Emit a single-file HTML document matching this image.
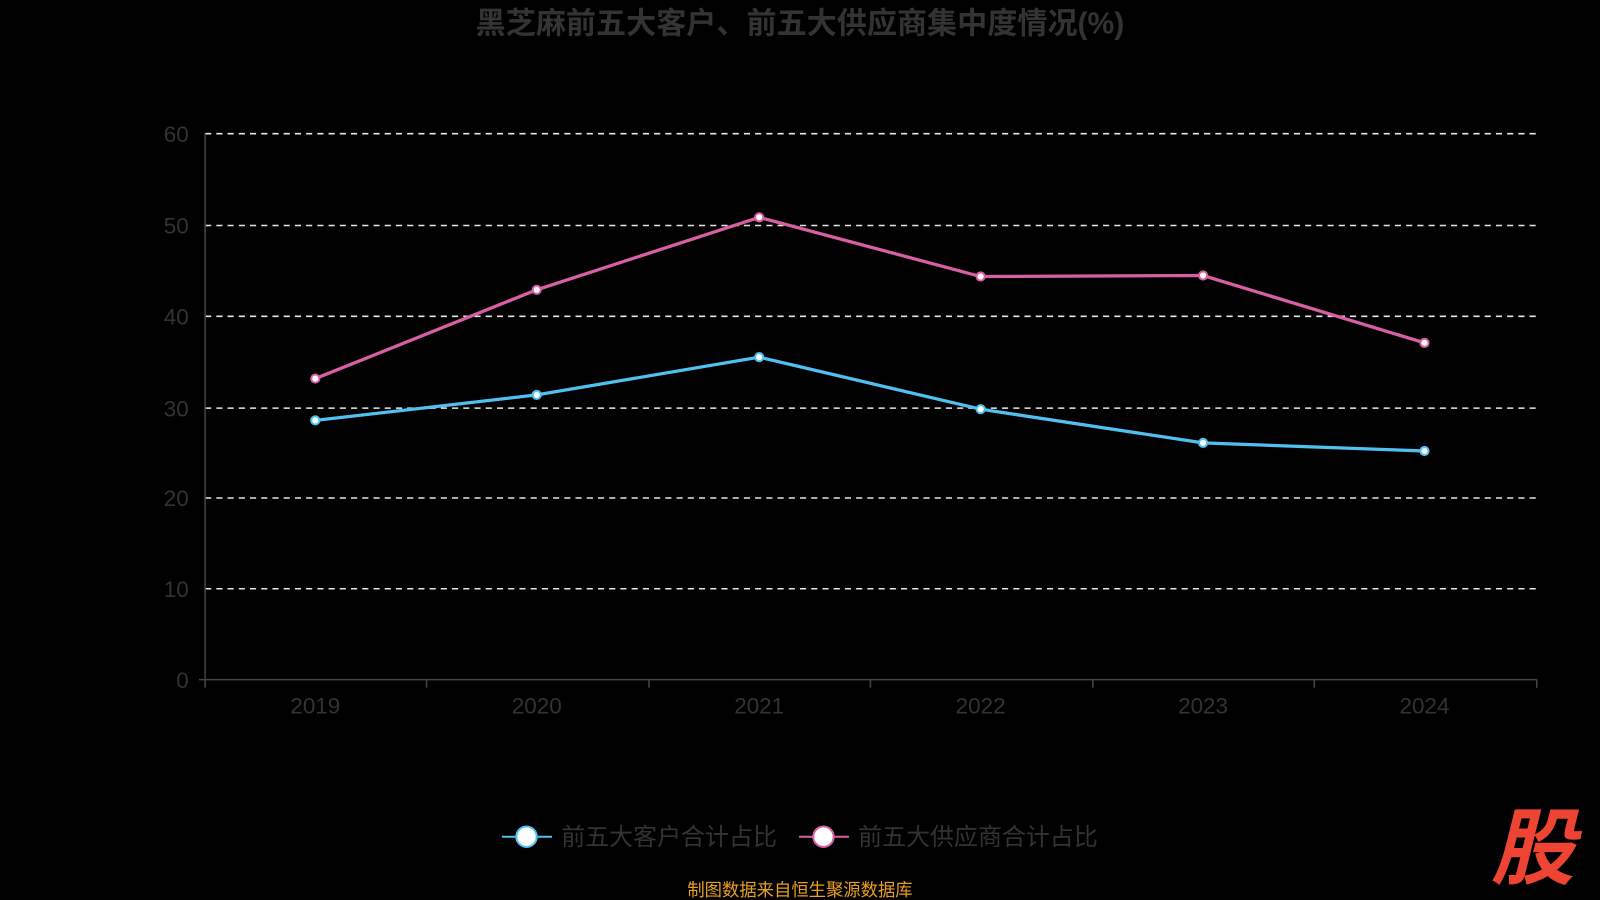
<!DOCTYPE html>
<html><head><meta charset="utf-8"><style>
html,body{margin:0;padding:0;background:#000;}
svg{display:block;}
text{font-family:"Liberation Sans","Noto Sans CJK SC",sans-serif;}
</style></head><body>
<svg width="1600" height="900" viewBox="0 0 1568 882" preserveAspectRatio="none">
<rect width="1568" height="882" fill="#000"/>
<text x="784" y="33" text-anchor="middle" font-size="29.5" font-weight="bold" fill="#333">黑芝麻前五大客户、前五大供应商集中度情况(%)</text>
<g stroke="#e6e6e6" stroke-width="1.5" stroke-dasharray="6,5">
<line x1="201" y1="131" x2="1506" y2="131"/>
<line x1="201" y1="221" x2="1506" y2="221"/>
<line x1="201" y1="310" x2="1506" y2="310"/>
<line x1="201" y1="400" x2="1506" y2="400"/>
<line x1="201" y1="488" x2="1506" y2="488"/>
<line x1="201" y1="577" x2="1506" y2="577"/>
</g>
<g stroke="#444" stroke-width="1.5">
<line x1="201" y1="131" x2="201" y2="666"/>
<line x1="195" y1="666" x2="1506" y2="666"/>
<line x1="201" y1="666" x2="201" y2="674"/><line x1="418" y1="666" x2="418" y2="674"/>
<line x1="636" y1="666" x2="636" y2="674"/><line x1="853" y1="666" x2="853" y2="674"/>
<line x1="1071" y1="666" x2="1071" y2="674"/><line x1="1288" y1="666" x2="1288" y2="674"/>
<line x1="1506" y1="666" x2="1506" y2="674"/>
</g>
<g font-size="22" fill="#333" text-anchor="end">
<text x="185" y="139">60</text><text x="185" y="229">50</text><text x="185" y="318">40</text>
<text x="185" y="408">30</text><text x="185" y="496">20</text><text x="185" y="585">10</text><text x="185" y="674">0</text>
</g>
<g font-size="22" fill="#333" text-anchor="middle">
<text x="309" y="699">2019</text><text x="526" y="699">2020</text><text x="744" y="699">2021</text>
<text x="961" y="699">2022</text><text x="1179" y="699">2023</text><text x="1396" y="699">2024</text>
</g>
<polyline fill="none" stroke="#d95fa5" stroke-width="3.2" points="309,371 526,284 744,213 961,271 1179,270 1396,336"/>
<polyline fill="none" stroke="#4fc0f0" stroke-width="3.2" points="309,412 526,387 744,350 961,401 1179,434 1396,442"/>
<g fill="#fff" stroke="#d95fa5" stroke-width="2">
<circle cx="309" cy="371" r="4"/><circle cx="526" cy="284" r="4"/><circle cx="744" cy="213" r="4"/>
<circle cx="961" cy="271" r="4"/><circle cx="1179" cy="270" r="4"/><circle cx="1396" cy="336" r="4"/>
</g>
<g fill="#fff" stroke="#4fc0f0" stroke-width="2">
<circle cx="309" cy="412" r="4"/><circle cx="526" cy="387" r="4"/><circle cx="744" cy="350" r="4"/>
<circle cx="961" cy="401" r="4"/><circle cx="1179" cy="434" r="4"/><circle cx="1396" cy="442" r="4"/>
</g>
<line x1="492" y1="820" x2="541" y2="820" stroke="#4fc0f0" stroke-width="2"/>
<circle cx="516" cy="820" r="10" fill="#fff" stroke="#4fc0f0" stroke-width="2"/>
<text x="550" y="828" font-size="23.5" fill="#333">前五大客户合计占比</text>
<line x1="783" y1="820" x2="832" y2="820" stroke="#d95fa5" stroke-width="2"/>
<circle cx="807" cy="820" r="10" fill="#fff" stroke="#d95fa5" stroke-width="2"/>
<text x="841" y="828" font-size="23.5" fill="#333">前五大供应商合计占比</text>
<text x="784" y="878" text-anchor="middle" font-size="17" fill="#e8a020">制图数据来自恒生聚源数据库</text>
<text x="1502" y="860" text-anchor="middle" font-size="82" font-weight="bold" fill="#ee4433" font-style="italic">股</text>
</svg>
</body></html>
